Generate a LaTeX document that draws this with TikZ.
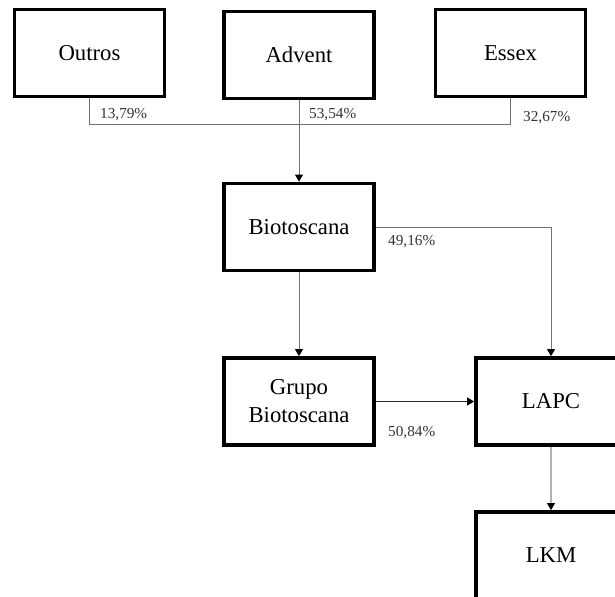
\documentclass[tikz,border=0pt]{standalone}
\usepackage{fontspec}
\setmainfont{Liberation Serif}
\usetikzlibrary{arrows.meta}
\begin{document}
\begin{tikzpicture}
[x=1bp, y=-1bp, node distance=210bp, font=\fontsize{22.8}{28}\selectfont]
\tikzstyle{firm}=[rectangle, draw, line width=3.8bp, fill=white, minimum width=150bp, minimum height=87bp, align=center]
\tikzstyle{share}=[anchor=west, inner sep=0pt, text=black!80, font=\fontsize{15.3}{18}\selectfont]
\tikzstyle{link}=[draw=black!55, line width=0.9bp]
\tikzstyle{tip}=[-{Triangle[width=8bp,length=7bp,color=black]}]
\clip (0,0) rectangle (615,597);

\node[firm]	(Advent)	at (299,55) {Advent};
\node[firm]	(Outros)	at (89.5,53) {Outros};
\node[firm]	(Essex)		at (510.5,53) {Essex};
\node[firm]	(Bio)		at (299,227) {Biotoscana};
\node[firm]	(Grupo)		at (299,401.5) {Grupo\\Biotoscana};
\node[firm]	(LAPC)		[right of=Grupo, xshift=42bp] {LAPC};
\node[firm]	(LKM)		at (551,555.5) {LKM};

\coordinate	(bus)		at (0,124);

\node[share]	(pOutros)	at (100,115) {13,79\%};
\node[share]	(pAdvent)	at (309,115) {53,54\%};
\node[share]	(pEssex)	at (523,118) {32,67\%};
\node[share]	(pBio)		at (388,242) {49,16\%};
\node[share]	(pGrupo)	at (388,433) {50,84\%};

\draw [link] (Outros)--(Outros |- bus)--(Essex |- bus)--(Essex);
\draw [link, tip] (Advent)--(Bio);
\draw [link, tip] (Bio)--(Grupo);
\draw [link, tip] (Bio.east)--(Bio.east -| LAPC)--(LAPC);
\draw [link, draw=black!85, tip] (Grupo)--(LAPC);
\draw [link, draw=black!85, tip] (LAPC)--(LKM);

\end{tikzpicture}
\end{document}
